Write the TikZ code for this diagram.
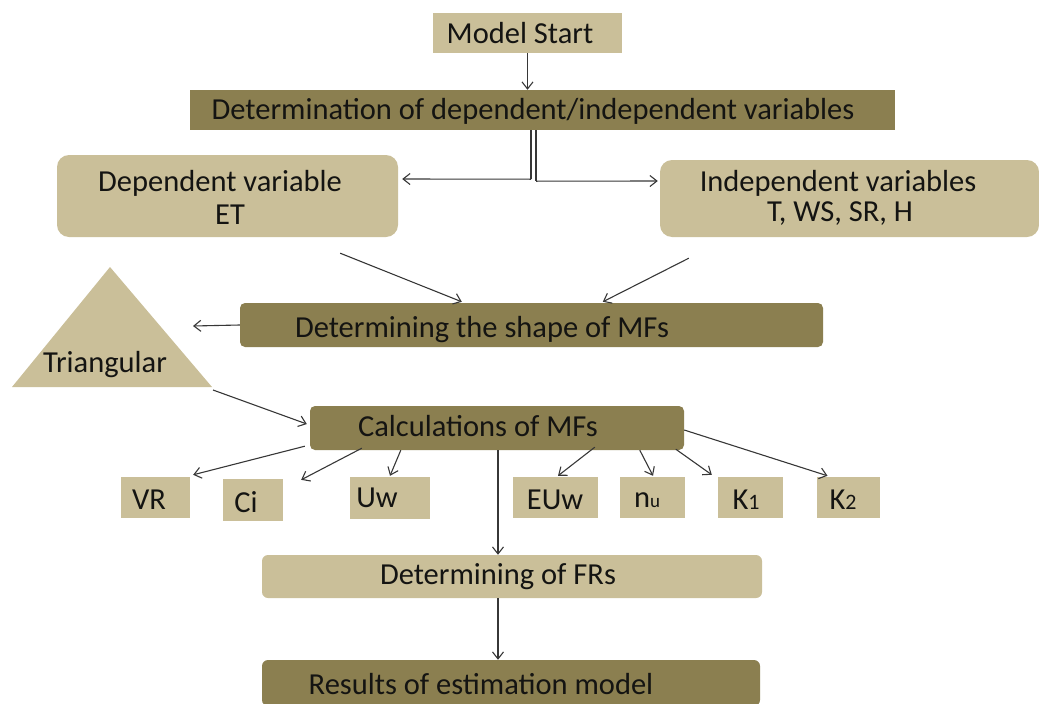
\documentclass[tikz,border=0pt]{standalone}
\usepackage{fontspec}
\setmainfont{Carlito}
\usetikzlibrary{arrows.meta,calc}
\definecolor{lightbox}{RGB}{202,191,153}
\definecolor{darkbox}{RGB}{139,127,80}
\definecolor{ink}{RGB}{20,20,18}
\definecolor{wire}{RGB}{55,55,55}
\tikzset{
  lbox/.style={fill=lightbox, draw=none, inner sep=0pt},
  dbox/.style={fill=darkbox, draw=none, inner sep=0pt},
  txt/.style={inner sep=0pt, text=ink, font=\fontsize{30.5}{34}\selectfont},
  arr/.style={draw=wire, line width=1.1pt, -{Straight Barb[length=7pt,width=11pt,line width=1.1pt]}},
  ln/.style={draw=wire, line width=1.1pt},
}
\begin{document}
\begin{tikzpicture}[x=1pt,y=-1pt]
\useasboundingbox (0,0) rectangle (1039,704);
% boxes
\node[lbox, minimum width=189pt, minimum height=40pt] (start) at (527.5,33) {};
\node[dbox, minimum width=705pt, minimum height=40pt] (det) at (542.5,110) {};
\node[lbox, rounded corners=12pt, minimum width=341pt, minimum height=82pt] (dep) at (227.5,196) {};
\node[lbox, rounded corners=12pt, minimum width=379pt, minimum height=77pt] (indep) at (849.5,198.5) {};
\node[dbox, rounded corners=5pt, minimum width=583pt, minimum height=44pt] (shape) at (531.5,325) {};
\node[dbox, rounded corners=5pt, minimum width=374pt, minimum height=44pt] (calc) at (497,428) {};
\node[lbox, minimum width=69pt, minimum height=41pt] (vr) at (155.5,497.5) {};
\node[lbox, minimum width=60pt, minimum height=42pt] (ci) at (253,500) {};
\node[lbox, minimum width=80pt, minimum height=42pt] (uw) at (390,498) {};
\node[lbox, minimum width=85pt, minimum height=41pt] (euw) at (555.5,497.5) {};
\node[lbox, minimum width=65pt, minimum height=41pt] (nu) at (652.5,497.5) {};
\node[lbox, minimum width=65pt, minimum height=41pt] (k1) at (750.5,497.5) {};
\node[lbox, minimum width=63pt, minimum height=41pt] (k2) at (848.5,497.5) {};
\node[lbox, rounded corners=6pt, minimum width=500pt, minimum height=43pt] (fr) at (512,576.5) {};
\node[dbox, rounded corners=6pt, minimum width=498pt, minimum height=46pt] (res) at (511,683) {};
% triangle
\coordinate (tA) at (110,267);
\coordinate (tL) at (12,387);
\coordinate (tR) at (212,387);
\fill[lightbox] (tA) -- (tL) -- (tR) -- cycle;
% texts
\node[txt] (tstart) at (520,33) {Model Start};
\node[txt] (tdet) at (533,111) {Determination of dependent/independent variables};
\node[txt] (tdep1) at (220,183) {Dependent variable};
\node[txt] (tdep2) at (230,215) {ET};
\node[txt] (tind1) at (838,183) {Independent variables};
\node[txt] (tind2) at (840,214) {T, WS, SR, H};
\node[txt] (tshape) at (482,330) {Determining the shape of MFs};
\node[txt] (ttri) at (105,365) {Triangular};
\node[txt] (tcalc) at (478,426) {Calculations of MFs};
\node[txt] (tvr) at (149,500) {VR};
\node[txt] (tci) at (246,502) {Ci};
\node[txt] (tuw) at (377,498) {Uw};
\node[txt] (teuw) at (555,500) {EUw};
\node[txt] (tnu) at (647,500) {n{\fontsize{19}{20}\selectfont u}};
\node[txt] (tk1) at (746,500) {K{\fontsize{22}{22}\selectfont 1}};
\node[txt] (tk2) at (843,500) {K{\fontsize{22}{22}\selectfont 2}};
\node[txt] (tfr) at (498,577) {Determining of FRs};
\node[txt] (tres) at (481,684) {Results of estimation model};
% connectors
\draw[arr] (start.south) -- (start.south |- det.north);
\draw[ln] ([xshift=-11.5pt]det.south) -- ++(0,49);
\draw[arr, shorten >=4pt] ([xshift=-11.5pt,yshift=-49pt]det.south) -- (dep.east |- 0,179);
\draw[ln] ([xshift=-6.5pt]det.south) -- ++(0,51);
\draw[arr, shorten >=2pt] ([xshift=-6.5pt,yshift=-51pt]det.south) -- (indep.west |- 0,181);
\draw[arr] ($(dep.south east)+(-58,16)$) -- ($(shape.north west)+(222,-1)$);
\draw[arr] ($(indep.south west)+(29,21)$) -- ($(shape.north west)+(363,-1)$);
\draw[arr] (shape.west) -- (193,326);
\draw[arr] ($(tR)+(1,3)$) -- ($(calc.west)+(-3,-4)$);
\draw[arr] ($(calc.south west)+(-5,-4)$) -- ($(vr.north east)+(3,-2)$);
\draw[arr] ($(calc.south west)+(52,-2)$) -- ($(ci.north east)+(18,1)$);
\draw[arr] ($(calc.south west)+(91,0)$) -- ($(uw.north)+(0,-1)$);
\draw[arr] ($(calc.south west)+(285,-3)$) -- ($(euw.north)+(2.5,-1)$);
\draw[arr] ($(calc.south west)+(330,0)$) -- ($(nu.north)+(0.5,-1)$);
\draw[arr] ($(calc.south west)+(366,-1)$) -- ($(k1.north west)+(-6,-2)$);
\draw[arr] ($(calc.east)+(0,2)$) -- ($(k2.north)+(-21,-1)$);
\draw[arr] (calc.south -| 498,0) -- (fr.north -| 498,0);
\draw[arr] (fr.south -| 498,0) -- (res.north -| 498,0);
\end{tikzpicture}
\end{document}
